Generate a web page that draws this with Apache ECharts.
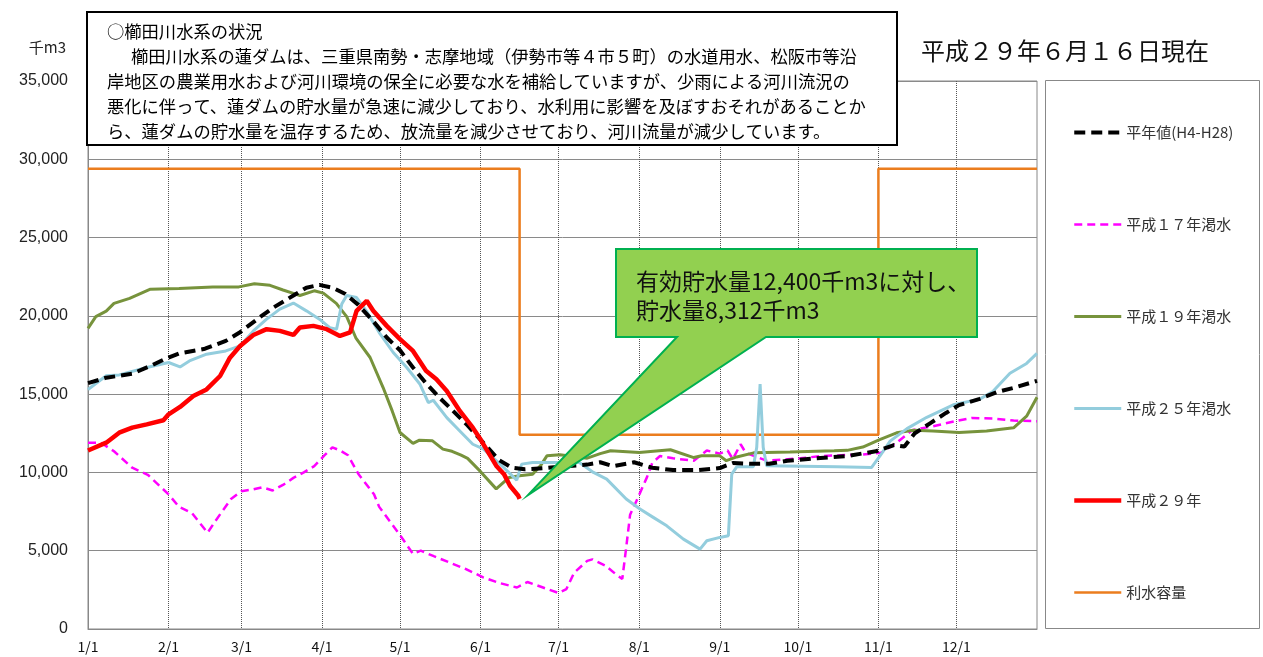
<!DOCTYPE html>
<html>
<head>
<meta charset="utf-8">
<script src="https://cdn.jsdelivr.net/npm/echarts@6/dist/echarts.min.js"></script>
<style>
html,body{margin:0;padding:0;background:#fff;}
#chart{width:1263px;height:657px;}
</style>
</head>
<body>
<div id="chart"></div>
<script>
// x = day of year (0 = 1/1)
const tickDays = [0,31,59,90,120,151,181,212,243,273,304,334];
const tickLabels = ['1/1','2/1','3/1','4/1','5/1','6/1','7/1','8/1','9/1','10/1','11/1','12/1'];

const seriesNames = ['平年値(H4-H28)','平成１７年渇水','平成１９年渇水','平成２５年渇水','平成２９年','利水容量'];

const heinen = [[0,15700],[7,16050],[17,16300],[24,16800],[29,17200],[35,17600],[45,17900],[53,18400],[58,18900],[66,19900],[71,20500],[79,21300],[84,21800],[89,21980],[94,21800],[99,21400],[104,20700],[110,19600],[115,18600],[120,17800],[125,16700],[130,15700],[135,14800],[140,14000],[146,13000],[152,11900],[158,10800],[163,10300],[168,10200],[176,10280],[184,10400],[192,10500],[197,10650],[202,10400],[210,10650],[217,10300],[225,10150],[235,10150],[243,10280],[248,10600],[256,10550],[262,10550],[269,10750],[280,10900],[292,11050],[303,11350],[310,11750],[314,11650],[318,12500],[324,13150],[330,13800],[335,14300],[343,14700],[350,15150],[356,15400],[362,15700],[365,15850]];

const h17 = [[0,11900],[5,11900],[10,11350],[17,10300],[23,9850],[31,8600],[35,7800],[40,7400],[46,6150],[49,6900],[52,7600],[55,8300],[59,8800],[63,8900],[67,9050],[71,8850],[75,9200],[79,9650],[83,10000],[87,10400],[91,11100],[94,11600],[97,11400],[100,11100],[104,9900],[110,8600],[112,7800],[116,6900],[120,6000],[125,4800],[128,5000],[133,4650],[139,4250],[145,3850],[152,3300],[158,2950],[165,2650],[169,3000],[175,2650],[181,2300],[184,2550],[187,3600],[192,4350],[194,4450],[199,4050],[203,3500],[205.5,3200],[207,5200],[208.5,7300],[211,8200],[215,9700],[217,10600],[220,11050],[225,10900],[233,10750],[238,11400],[243,11200],[246,11400],[248,10850],[251,11800],[253,11250],[261,10750],[274,10900],[282,11050],[298,11150],[305,11250],[311,11900],[317,12700],[325,12950],[333,13250],[340,13480],[348,13440],[356,13310],[365,13270]];

const h19 = [[0,19200],[3,19950],[7,20300],[10,20800],[16,21120],[24,21700],[35,21750],[48,21850],[58,21850],[64,22050],[70,21950],[75,21650],[79,21440],[81.5,21300],[87,21600],[90.5,21450],[95.5,20800],[99.5,19950],[103,18600],[108.5,17340],[113.5,15420],[117,13930],[120,12550],[125,11850],[127.5,12060],[132.5,12020],[136.5,11490],[140,11350],[143.5,11100],[146,10900],[151,10050],[157,8950],[162,9680],[166,9790],[171,9890],[174,10420],[176.5,11060],[181.5,11130],[192,10910],[197,11200],[201,11380],[212,11270],[224,11450],[233,10950],[236,11060],[243,11060],[245.5,10750],[249.5,10990],[256,11250],[270,11300],[287,11380],[292,11410],[298,11620],[304.5,12100],[311,12530],[317.5,12700],[325,12650],[335,12550],[345.6,12640],[356,12850],[361,13590],[365,14800]];

const h25 = [[0,15300],[7,16170],[12,16230],[22.6,16700],[31,17020],[35.4,16740],[39,17120],[45.6,17550],[53,17760],[58.5,18080],[63.6,19040],[68.7,19790],[73.8,20430],[79,20820],[84,20320],[89,19790],[93,19250],[95.6,19150],[97.6,20750],[99.5,21300],[103.3,21170],[107,20320],[112,18935],[117.4,17660],[122.6,16700],[127.7,15630],[130.9,14460],[132.8,14610],[138,13500],[143,12650],[148,11800],[152,11500],[158.5,10530],[164.9,9510],[166.8,10530],[171,10640],[181.5,10640],[189,10640],[194.4,10000],[199.5,9570],[207,8300],[212.3,7660],[217.4,7130],[222.6,6590],[229,5740],[235.4,5100],[238,5640],[243,5850],[246.3,5960],[247.6,9890],[249.5,10360],[255.9,10360],[257.2,11600],[258.5,15640],[259.7,11600],[261,10430],[288,10360],[301.4,10320],[304.6,11050],[308.5,12000],[315,12800],[322.6,13520],[332.8,14320],[343,14680],[348,15170],[354.6,16330],[361,16960],[365,17600]];

const h29 = [[0,11400],[7,11900],[12,12540],[17,12860],[22.6,13070],[29,13330],[31,13710],[35.4,14180],[40.5,14880],[45.6,15300],[50.8,16160],[54.6,17330],[58.5,18080],[63.6,18780],[68.7,19150],[73.8,19040],[79,18780],[81.5,19250],[86.7,19360],[91.8,19150],[96.9,18720],[100.8,18940],[103.3,20320],[107.2,20960],[109.7,20320],[114.9,19360],[120,18510],[125,17760],[130,16490],[134,15950],[138,15200],[143,13930],[148,12860],[151,12100],[157,10430],[160,9890],[162.3,9150],[165.5,8510],[166,8312]];

const risui = [[0,29400],[166,29400],[166,12400],[304,12400],[304,29400],[365,29400]];

const titleText = '平成２９年６月１６日現在';
const boxLines = [
  '○櫛田川水系の状況',
  '櫛田川水系の蓮ダムは、三重県南勢・志摩地域（伊勢市等４市５町）の水道用水、松阪市等沿',
  '岸地区の農業用水および河川環境の保全に必要な水を補給していますが、少雨による河川流況の',
  '悪化に伴って、蓮ダムの貯水量が急速に減少しており、水利用に影響を及ぼすおそれがあることか',
  'ら、蓮ダムの貯水量を温存するため、放流量を減少させており、河川流量が減少しています。'
];
const calloutLines = ['有効貯水量12,400千m3に対し、','貯水量8,312千m3'];

const JP = '"Noto Sans CJK JP", "Noto Sans CJK SC", sans-serif';

const chart = echarts.init(document.getElementById('chart'), null, {renderer:'canvas'});

function fmt(v){ return String(v).replace(/\B(?=(\d{3})+(?!\d))/g, ','); }

const boxTextEls = boxLines.map((t,i)=>({
  type:'text', z:101, silent:true,
  style:{ text:t, x: i===1 ? 131 : 107, y: 31 + i*25, fill:'#000',
    font:'17.3px ' + JP, verticalAlign:'middle', textVerticalAlign:'middle' }
}));

const legendWidths = [4, 2.5, 3, 3, 4.5, 2.5];

const option = {
  animation:false,
  backgroundColor:'#fff',
  grid:{ left:88, right:226, top:81, bottom:28, show:true, borderColor:'#888', borderWidth:1 },
  xAxis:{
    type:'value', min:0, max:365,
    axisLine:{ show:true, lineStyle:{ color:'#888', width:1 } },
    axisTick:{ show:false, customValues: tickDays },
    axisLabel:{ customValues: tickDays, formatter: v => tickLabels[tickDays.indexOf(v)] || '',
      color:'#111', fontSize:14, fontFamily: JP, margin:11 },
    splitLine:{ show:true, lineStyle:{ color:'#555', type:'dotted', width:1 } }
  },
  yAxis:{
    type:'value', min:0, max:35000, interval:5000,
    axisLine:{ show:true, lineStyle:{ color:'#888' } },
    axisTick:{ show:false },
    axisLabel:{ formatter: v => fmt(v), color:'#222', fontSize:16, fontFamily:'"Liberation Sans", Arial, sans-serif', margin:20 },
    splitLine:{ show:true, lineStyle:{ color:'#8a8a8a', width:1 } }
  },
  legend:{
    orient:'vertical', left:1067, top:120,
    itemWidth:47, itemHeight:14, itemGap:77,
    itemStyle:{ opacity:0 },
    data: seriesNames.map((n,i)=>({ name:n, lineStyle:{ width: legendWidths[i] } })),
    textStyle:{ fontSize:15, color:'#333', fontFamily: JP, lineHeight:14 }
  },
  series:[
    { name:seriesNames[5], type:'line', data:risui, symbol:'none', z:2,
      lineStyle:{ color:'#EB7D1E', width:2.5 }, itemStyle:{ color:'#EB7D1E' } },
    { name:seriesNames[1], type:'line', data:h17, symbol:'none', z:3,
      lineStyle:{ color:'#FF00FF', width:2.5, type:[8,5] }, itemStyle:{ color:'#FF00FF' } },
    { name:seriesNames[2], type:'line', data:h19, symbol:'none', z:4,
      lineStyle:{ color:'#77933C', width:3 }, itemStyle:{ color:'#77933C' } },
    { name:seriesNames[3], type:'line', data:h25, symbol:'none', z:5,
      lineStyle:{ color:'#93CDDD', width:3 }, itemStyle:{ color:'#93CDDD' } },
    { name:seriesNames[0], type:'line', data:heinen, symbol:'none', z:6,
      lineStyle:{ color:'#000', width:4, type:[11,6] }, itemStyle:{ color:'#000' } },
    { name:seriesNames[4], type:'line', data:h29, symbol:'none', z:7,
      lineStyle:{ color:'#FF0000', width:4.5 }, itemStyle:{ color:'#FF0000' } }
  ],
  graphic:[
    // legend frame
    { type:'rect', z:1, silent:true, shape:{ x:1045.5, y:80.5, width:214, height:548 },
      style:{ fill:'none', stroke:'#888', lineWidth:1 } },
    // y-axis unit
    { type:'text', z:100, silent:true,
      style:{ text:'千m3', x:66, y:47, fill:'#222', font:'15px ' + JP, align:'right', textAlign:'right', verticalAlign:'middle', textVerticalAlign:'middle' } },
    // title
    { type:'text', z:100, silent:true,
      style:{ text:titleText, x:921, y:51, fill:'#111', font:'24px ' + JP, verticalAlign:'middle', textVerticalAlign:'middle' } },
    // description box
    { type:'rect', z:100, silent:true, shape:{ x:87, y:12, width:810, height:133 },
      style:{ fill:'#fff', stroke:'#000', lineWidth:2 } },
    ...boxTextEls,
    // callout
    { type:'polygon', z:100, silent:true,
      shape:{ points:[[616,249],[977,249],[977,337],[766,337],[528,495],[677,337],[616,337]] },
      style:{ fill:'#92D050', stroke:'#00B050', lineWidth:2 } },
    { type:'text', z:101, silent:true,
      style:{ text:calloutLines[0], x:636, y:281, fill:'#111', font:'23px ' + JP, verticalAlign:'middle', textVerticalAlign:'middle' } },
    { type:'text', z:101, silent:true,
      style:{ text:calloutLines[1], x:636, y:310, fill:'#111', font:'23px ' + JP, verticalAlign:'middle', textVerticalAlign:'middle' } }
  ]
};
chart.setOption(option);
</script>
</body>
</html>
